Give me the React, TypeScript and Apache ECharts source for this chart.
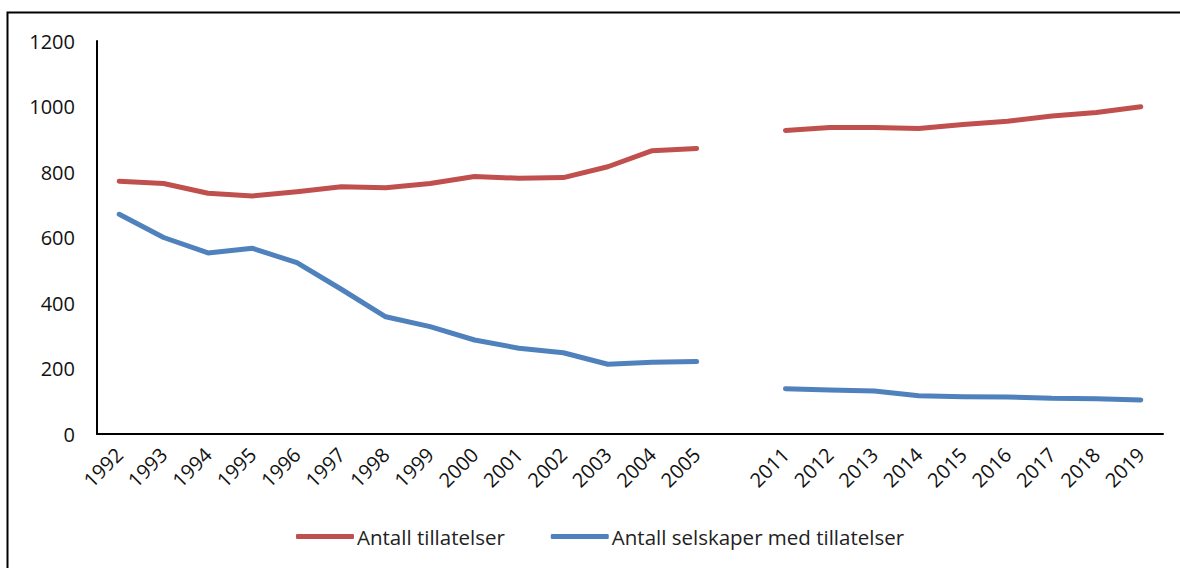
import React, { useEffect, useRef } from "react";
import * as echarts from "echarts";

const categories = [
  "1992", "1993", "1994", "1995", "1996", "1997", "1998", "1999", "2000", "2001", "2002", "2003", "2004", "2005",
  "",
  "2011", "2012", "2013", "2014", "2015", "2016", "2017", "2018", "2019",
];

const tillatelser = [
  772, 765, 735, 727, 740, 755, 752, 765, 786, 781, 783, 816, 865, 872,
  null,
  927, 936, 936, 933, 945, 955, 971, 982, 999,
];

const selskaper = [
  671, 600, 553, 567, 523, 442, 358, 328, 287, 262, 248, 213, 219, 221,
  null,
  138, 134, 131, 117, 114, 113, 109, 108, 104,
];

const seriesNames = ["Antall tillatelser", "Antall selskaper med tillatelser"];
const yTicks = [0, 200, 400, 600, 800, 1000, 1200];

const FONT = "'Open Sans', 'Noto Sans', sans-serif";

export default function App() {
  const ref = useRef<HTMLDivElement>(null);
  useEffect(() => {
    if (!ref.current) return;
    const chart = echarts.init(ref.current, null, { renderer: "svg" });
    chart.setOption({
      animation: false,
      backgroundColor: "#ffffff",
      grid: { left: 97, right: 17, top: 41, bottom: 134, containLabel: false },
      graphic: [
        {
          type: "rect",
          shape: { x: 7.5, y: 12.5, width: 1400, height: 800 },
          style: { fill: "none", stroke: "#000", lineWidth: 2 },
          silent: true,
        },
      ],
      legend: {
        top: 521,
        left: 291,
        itemWidth: 58,
        itemHeight: 5,
        itemGap: 46,
        icon: "roundRect",
        textStyle: { fontFamily: FONT, fontSize: 20.5, color: "#222", padding: [0, 0, 0, -2] },
        data: seriesNames,
      },
      xAxis: {
        type: "category",
        data: categories,
        boundaryGap: true,
        axisLine: { lineStyle: { color: "#000", width: 2 } },
        axisTick: { show: false },
        axisLabel: {
          rotate: 45,
          interval: 0,
          margin: 17,
          fontFamily: FONT,
          fontSize: 20,
          color: "#111",
        },
      },
      yAxis: {
        type: "value",
        min: yTicks[0],
        max: yTicks[yTicks.length - 1],
        interval: 200,
        axisLine: { show: true, lineStyle: { color: "#000", width: 2 } },
        axisTick: { show: false },
        splitLine: { show: false },
        axisLabel: {
          margin: 22,
          fontFamily: FONT,
          fontSize: 20,
          color: "#111",
          formatter: (v: number) => String(v),
        },
      },
      series: [
        {
          name: seriesNames[0],
          type: "line",
          data: tillatelser,
          connectNulls: false,
          showSymbol: false,
          symbol: "none",
          lineStyle: { color: "#C0504D", width: 5, cap: "round", join: "round" },
          itemStyle: { color: "#C0504D" },
        },
        {
          name: seriesNames[1],
          type: "line",
          data: selskaper,
          connectNulls: false,
          showSymbol: false,
          symbol: "none",
          lineStyle: { color: "#4F81BD", width: 5, cap: "round", join: "round" },
          itemStyle: { color: "#4F81BD" },
        },
      ],
    });
    return () => chart.dispose();
  }, []);
  return (
    <div
      ref={ref}
      style={{ position: "fixed", left: 0, top: 0, width: 1180, height: 568 }}
    />
  );
}
